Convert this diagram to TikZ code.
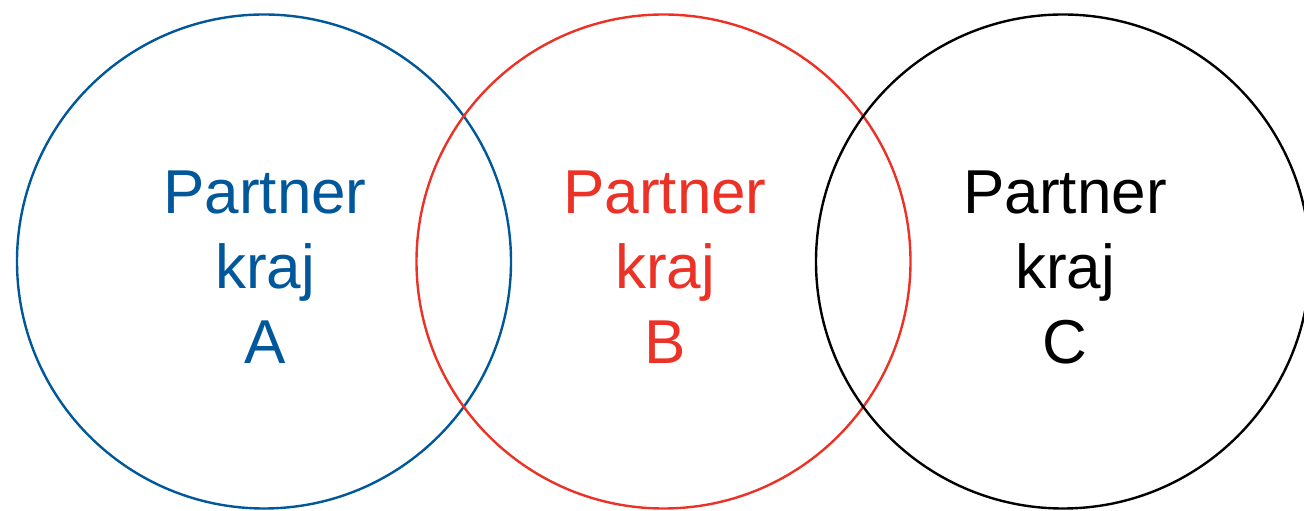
\documentclass[tikz,border=0pt]{standalone}
\usepackage{fontspec}
\setmainfont{Liberation Sans}
\definecolor{pblue}{RGB}{0,88,154}
\definecolor{pred}{RGB}{236,50,38}
\definecolor{pblack}{RGB}{0,0,0}
\begin{document}
\begin{tikzpicture}[x=1pt,y=1pt,
  ring/.style={circle,draw,line width=2.4pt,minimum size=494pt,inner sep=0pt},
  label/.style={align=center,inner sep=0pt,font=\fontsize{62}{75}\selectfont}]
\useasboundingbox (0,0) rectangle (1304,511);
\clip (0,0) rectangle (1304,511);
\node[ring,draw=pblue] (ca) at (264,249.5) {};
\node[ring,draw=pred] (cb) at (663.5,249.5) {};
\node[ring,draw=pblack] (cc) at (1063,249.5) {};
\node[label,text=pblue] (ta) at (265,243.5) {Partner\\kraj\\A};
\node[label,text=pred] (tb) at (665,243.5) {Partner\\kraj\\B};
\node[label,text=pblack] (tc) at (1065,243.5) {Partner\\kraj\\C};
\end{tikzpicture}
\end{document}
